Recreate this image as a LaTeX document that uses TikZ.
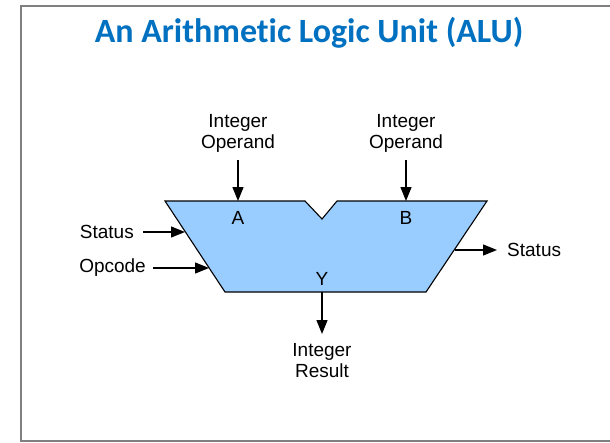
\documentclass[tikz,border=0pt]{standalone}
\usepackage{fontspec}
\setmainfont{Liberation Sans}
\newfontfamily\titlefont[Ligatures=NoCommon]{Carlito}
\usetikzlibrary{arrows.meta}
\definecolor{titleblue}{HTML}{0070C0}
\definecolor{alublue}{HTML}{99CCFF}
\definecolor{framegray}{HTML}{808080}
\tikzset{
  lbl/.style={font=\fontsize{19}{21}\selectfont, inner sep=0pt, align=center},
  sig/.style={line width=1.3pt, -{Triangle[length=14pt,width=11pt]}},
}
\begin{document}
\begin{tikzpicture}[x=1pt,y=-1pt]
\useasboundingbox (0,0) rectangle (610,442);
\begin{scope}
\clip (0,0) rectangle (610,442);
\draw[framegray, line width=1.6pt] (21,6) rectangle (640,441);
\end{scope}
\node[font=\titlefont\bfseries\fontsize{34}{38}\selectfont, text=titleblue, inner sep=0pt] (title) at (309,33) {An Arithmetic Logic Unit (ALU)};
% ALU body
\draw[fill=alublue, line width=1.1pt, line join=miter]
  (165,201) coordinate (tl) -- (305,201) -- (322,219) coordinate (notch) -- (337,201) -- (487,201) coordinate (tr)
  -- (426,292) coordinate (br) -- (225,292) coordinate (bl) -- cycle;
\coordinate (ina) at (238,201);
\coordinate (inb) at (406,201);
\coordinate (outy) at (322,292);
\coordinate (stl) at (185,232);
\coordinate (opc) at (209,268);
\coordinate (str) at (455,250);
\node[lbl] (la) at (238,218) {A};
\node[lbl] (lb) at (406,218) {B};
\node[lbl] (ly) at (322,279) {Y};
\node[lbl] (opa) at (238,133) {Integer\\Operand};
\node[lbl] (opb) at (406,133) {Integer\\Operand};
\node[lbl, anchor=east] (sl) at (134,232) {Status};
\node[lbl, anchor=east] (oc) at (146,268) {Opcode};
\node[lbl, anchor=west] (sr) at (507,250) {Status};
\node[lbl] (res) at (322,361) {Integer\\Result};
\coordinate (opaS) at (238,160);
\coordinate (opbS) at (406,160);
\coordinate (slS) at (143,232);
\coordinate (ocS) at (153,268);
\coordinate (srE) at (497,250);
\coordinate (resE) at (322,334);
\draw[sig] (opaS) -- (ina);
\draw[sig] (opbS) -- (inb);
\draw[sig] (slS) -- (stl);
\draw[sig] (ocS) -- (opc);
\draw[sig] (str) -- (srE);
\draw[sig] (outy) -- (resE);
\end{tikzpicture}
\end{document}
